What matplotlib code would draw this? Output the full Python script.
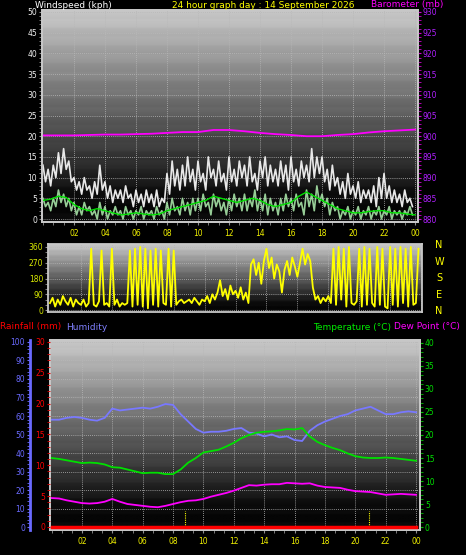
import matplotlib
matplotlib.use('Agg')
import matplotlib.pyplot as plt
from matplotlib.ticker import MultipleLocator
import numpy as np

W, H = 466, 555

# ---- wind speed (kph), 10 minute samples, one row per hour ----
wind_gust = [
    13, 9, 12, 8, 13, 10,
    16, 11, 17, 12, 14, 9,
    10, 7, 9, 6, 10, 7,
    8, 5, 9, 6, 13, 7,
    9, 5, 8, 4, 7, 5,
    7, 4, 8, 5, 6, 3,
    7, 4, 6, 3, 7, 4,
    6, 3, 7, 3, 5, 4,
    11, 6, 14, 8, 12, 7,
    13, 8, 15, 9, 12, 7,
    14, 9, 11, 7, 15, 10,
    12, 8, 14, 9, 11, 7,
    15, 9, 12, 8, 14, 10,
    13, 8, 15, 9, 11, 7,
    14, 10, 15, 8, 13, 9,
    12, 8, 14, 9, 13, 7,
    15, 9, 12, 8, 14, 10,
    13, 9, 17, 10, 15, 11,
    15, 9, 12, 7, 13, 8,
    10, 6, 9, 5, 11, 6,
    8, 5, 9, 4, 7, 5,
    7, 4, 8, 3, 10, 5,
    11, 5, 8, 4, 7, 4,
    6, 3, 7, 4, 5, 3,
]
wind_speed = [
    5, 3, 4, 2, 5, 3,
    7, 4, 6, 3, 5, 2,
    4, 1, 3, 1, 4, 2,
    3, 1, 2, 0, 4, 1,
    3, 0, 2, 1, 3, 1,
    2, 0, 3, 1, 2, 0,
    2, 1, 3, 0, 2, 1,
    2, 0, 3, 1, 2, 0,
    4, 1, 5, 2, 3, 1,
    5, 2, 4, 1, 5, 2,
    5, 2, 6, 3, 4, 1,
    6, 3, 5, 2, 4, 1,
    5, 2, 6, 3, 5, 2,
    6, 2, 5, 3, 7, 2,
    5, 2, 6, 1, 5, 2,
    4, 1, 5, 2, 6, 3,
    5, 2, 6, 3, 4, 1,
    7, 3, 6, 2, 8, 4,
    6, 3, 5, 1, 4, 2,
    3, 0, 2, 1, 3, 0,
    2, 1, 3, 0, 2, 1,
    3, 0, 2, 1, 3, 0,
    2, 1, 3, 0, 2, 1,
    2, 0, 2, 1, 3, 1,
]
# half hourly average wind
wind_avg = [4.5, 4.8, 5.5, 5.2, 3.5, 2.5, 2.0, 2.5, 2.0, 1.5, 1.0, 1.2, 1.5, 1.2,
            1.0, 1.2, 2.0, 2.5, 3.0, 3.5, 4.0, 4.5, 5.5, 5.0, 4.5, 4.0, 4.5, 5.0,
            4.5, 3.5, 3.0, 3.5, 4.0, 5.5, 6.5, 5.5, 4.5, 3.5, 2.5, 2.0, 1.5, 1.5,
            1.8, 2.0, 2.0, 1.5, 1.5, 1.2, 1.0]
# hourly barometer (mb)
baro = [900.2, 900.2, 900.2, 900.3, 900.4, 900.4, 900.5, 900.6, 900.8, 901.0,
        901.0, 901.5, 901.5, 901.2, 900.8, 900.5, 900.3, 900.0, 900.0, 900.3,
        900.5, 900.9, 901.2, 901.4, 901.6]

# ---- wind direction (deg), 10 minute samples ----
wind_dir = [
    40, 70, 20, 60, 30, 80,
    50, 30, 70, 20, 60, 40,
    30, 60, 20, 40, 350, 30,
    20, 50, 340, 30, 40, 20,
    350, 30, 60, 20, 40, 30,
    40, 340, 20, 350, 30, 360,
    20, 350, 10, 340, 30, 350,
    20, 340, 40, 30, 350, 20,
    340, 30, 50, 60, 40, 50,
    60, 40, 70, 50, 30, 60,
    50, 80, 40, 90, 60, 100,
    170, 80, 120, 60, 140, 90,
    110, 70, 130, 60, 100, 40,
    260, 290, 200, 270, 150, 280,
    350, 240, 300, 180, 260, 220,
    100, 230, 280, 200, 300, 250,
    190, 270, 350, 260, 320, 280,
    130, 60, 80, 40, 70, 50,
    80, 40, 350, 30, 360, 60,
    350, 20, 360, 40, 30, 50,
    350, 20, 360, 30, 350, 40,
    20, 360, 30, 350, 20, 10,
    360, 30, 350, 20, 360, 40,
    350, 20, 360, 30, 40, 350,
]

# ---- half hourly humidity (%), temperature and dew point (C) ----
humidity = [58, 58, 59, 59.5, 59, 58, 57.5, 59, 64, 63, 63.5, 64, 64.5, 64, 65,
            66.5, 66, 61, 57, 53, 51, 51.5, 51.5, 52, 53, 53.5, 51, 50.5, 49, 50,
            48.5, 49, 47, 46.5, 52, 55, 57, 58.5, 60, 61, 63, 64, 65, 63, 61, 61,
            62, 62.5, 62]
temperature = [15.0, 14.8, 14.5, 14.2, 13.9, 14.0, 13.9, 13.6, 13.0, 12.9, 12.5,
               12.1, 11.7, 11.8, 11.8, 11.5, 11.5, 12.5, 14.0, 15.0, 16.2, 16.5,
               16.8, 17.5, 18.3, 19.3, 20.0, 20.5, 20.7, 20.8, 21.0, 21.3, 21.2,
               21.5, 19.7, 18.5, 17.8, 17.2, 16.7, 16.0, 15.4, 15.1, 15.0, 15.0,
               15.1, 15.0, 14.8, 14.6, 14.4]
dew_point = [6.3, 6.2, 5.8, 5.5, 5.2, 5.1, 5.2, 5.5, 6.1, 5.5, 5.0, 4.8, 4.6, 4.4,
             4.3, 4.6, 5.0, 5.4, 5.7, 5.8, 6.1, 6.6, 7.0, 7.4, 7.9, 8.5, 9.1, 9.0,
             9.2, 9.3, 9.3, 9.6, 9.5, 9.4, 9.5, 9.0, 8.7, 8.6, 8.5, 8.1, 7.8, 7.7,
             7.6, 7.3, 7.0, 7.1, 7.2, 7.1, 7.0]
rain_hours = [0, 24]
rainfall = [0, 0]
marker_hours = [8.8, 20.9]

hour_labels = ['02', '04', '06', '08', '10', '12', '14', '16', '18', '20', '22', '00']

YELLOW = '#f0f000'
FRAME = '#c8c8c8'
TS = 5.5
FS = 6.5

fig = plt.figure(figsize=(W / 100, H / 100), dpi=100, facecolor='black')


def panel(l, t, r, b):
    return fig.add_axes([l / W, 1 - b / H, (r - l) / W, (b - t) / H])


def backdrop(ax):
    n = 120
    t = np.linspace(0, 1, n).reshape(-1, 1)
    shade = np.clip(0.78 - 0.85 * t, 0.02, 1)
    shade = shade + 0.02 * ((np.arange(n) // 5) % 2).reshape(-1, 1)
    ax.imshow(shade, extent=[0, 1, 0, 1], transform=ax.transAxes, aspect='auto',
              cmap='gray', vmin=0, vmax=1, zorder=0.1, interpolation='bilinear')
    ax.set_axisbelow(True)
    for s in ax.spines.values():
        s.set_color(FRAME)
        s.set_linewidth(1.3)


def time_axis(ax, labels=True):
    ax.set_xticks(range(2, 25, 2))
    ax.xaxis.set_minor_locator(MultipleLocator(2 / 3))
    if labels:
        ax.set_xticklabels(hour_labels)
    else:
        ax.set_xticklabels([])
    ax.tick_params(axis='x', which='both', colors='#909090', labelcolor=YELLOW,
                   labelsize=TS, length=2, pad=3)
    ax.grid(axis='x', color='#b8b8b8', linestyle=(0, (1, 1.5)), linewidth=0.6)


# ---------------- wind speed / barometer ----------------
ax1 = panel(42, 10, 418, 222)
backdrop(ax1)
ax1.set_xlim(-0.06, 24.19)
ax1.set_ylim(-0.72, 50.48)
t10 = np.arange(len(wind_gust)) / 6
t30 = np.arange(len(wind_avg)) / 2
ax1.plot(t10, wind_gust, color='#e8e8e8', lw=1.2, zorder=3)
ax1.plot(t10, wind_speed, color='#b0f0b0', lw=1.2, alpha=0.85, zorder=4)
ax1.plot(t30, wind_avg, color='#00e000', lw=1.0, zorder=5)
ax1.set_yticks(range(0, 51, 5))
ax1.yaxis.set_minor_locator(MultipleLocator(1))
ax1.tick_params(axis='y', which='both', colors='#909090', labelcolor='#f0f0f0',
                labelsize=TS, length=2, pad=1.5)
ax1.grid(axis='y', color='#b8b8b8', linestyle=(0, (1, 1.5)), linewidth=0.6)
time_axis(ax1)

ax1b = ax1.twinx()
ax1b.set_ylim(879.28, 930.48)
ax1b.plot(np.arange(len(baro)), baro, color='#ff00ff', lw=1.3)
ax1b.set_yticks(range(880, 931, 5))
ax1b.yaxis.set_minor_locator(MultipleLocator(1))
ax1b.tick_params(axis='y', which='both', colors='#d000d0', labelcolor='#b020ff',
                 labelsize=TS, length=2, pad=1)
for s in ax1b.spines.values():
    s.set_color(FRAME)
    s.set_linewidth(1.3)

fig.text(35 / W, 1 - 5 / H, 'Windspeed (kph)', color='white', fontsize=FS, va='center')
fig.text(172 / W, 1 - 5 / H, '24 hour graph day : 14 September 2026', color='#ffff00',
         fontsize=FS, va='center')
fig.text(371 / W, 1 - 4.5 / H, 'Barometer (mb)', color='#ff00ff', fontsize=FS, va='center')

# ---------------- wind direction ----------------
ax2 = panel(48, 244, 422, 312)
backdrop(ax2)
ax2.set_xlim(-0.13, 24.06)
ax2.set_ylim(-11, 377)
ax2.plot(t10, wind_dir, color='#ffff00', lw=1.3, zorder=3)
ax2.set_yticks([0, 90, 180, 270, 360])
ax2.yaxis.set_minor_locator(MultipleLocator(30))
ax2.tick_params(axis='y', which='both', colors='#909090', labelcolor='#d8e800',
                labelsize=TS, length=2, pad=1.5)
ax2.grid(axis='y', color='#b8b8b8', linestyle=(0, (1, 1.5)), linewidth=0.6)
time_axis(ax2, labels=False)
ax2.tick_params(axis='x', which='both', length=0)
for i, c in enumerate(['N', 'W', 'S', 'E', 'N']):
    fig.text(439 / W, 1 - (245 + i * 16.5) / H, c, color='#ffff00', fontsize=7,
             ha='center', va='center')

# ---------------- temperature / humidity / rain ----------------
ax3 = panel(50, 340, 420, 530)
backdrop(ax3)
ax3.set_xlim(-0.1, 24.26)
ax3.set_ylim(-0.65, 40.65)
ax3.set_yticks([])
time_axis(ax3)

ax3h = ax3.twinx()
ax3h.set_ylim(-1.62, 101.08)
ax3h.yaxis.tick_left()
ax3h.spines['left'].set_position(('outward', 14.4))
ax3h.spines['left'].set_color('#6a6aff')
ax3h.spines['left'].set_linewidth(2)
for k in ['right', 'top', 'bottom']:
    ax3h.spines[k].set_visible(False)
ax3h.set_yticks(range(0, 101, 10))
ax3h.yaxis.set_minor_locator(MultipleLocator(2))
ax3h.tick_params(axis='y', which='both', colors='#6a6aff', labelcolor='#6a6aff',
                 labelsize=TS, length=2, pad=1.5)
ax3h.grid(axis='y', color='#b8b8b8', linestyle=(0, (1, 1.5)), linewidth=0.6)
ax3h.plot(t30, humidity, color='#7878ff', lw=1.3)

ax3t = ax3.twinx()
ax3t.set_ylim(-0.65, 40.65)
ax3t.plot(t30, temperature, color='#00e000', lw=1.3)
ax3t.plot(t30, dew_point, color='#ff00ff', lw=1.3)
for mh in marker_hours:
    ax3t.plot([mh, mh], [0, 3.5], color='#ffff00', lw=0.8, linestyle=(0, (1, 1)))
ax3t.set_yticks(range(0, 41, 5))
ax3t.yaxis.set_minor_locator(MultipleLocator(1))
ax3t.tick_params(axis='y', which='both', colors='#00c000', labelcolor='#00e000',
                 labelsize=TS, length=2, pad=1.5)
for s in ax3t.spines.values():
    s.set_color(FRAME)
    s.set_linewidth(1.3)

ax3r = ax3.twinx()
ax3r.set_ylim(-0.49, 30.32)
ax3r.yaxis.tick_left()
for s in ax3r.spines.values():
    s.set_visible(False)
ax3r.set_yticks(range(0, 31, 5))
ax3r.yaxis.set_minor_locator(MultipleLocator(1))
ax3r.tick_params(axis='y', which='both', colors='#e00000', labelcolor='#ff0000',
                 labelsize=TS, length=2, pad=1.5)
ax3r.plot(rain_hours, rainfall, color='#ff0000', lw=2.5)

fig.text(0 / W, 1 - 327 / H, 'Rainfall (mm)', color='#ff0000', fontsize=FS, va='center')
fig.text(66 / W, 1 - 327 / H, 'Humidity', color='#8080ff', fontsize=FS, va='center')
fig.text(313 / W, 1 - 327 / H, 'Temperature (\u00b0C)', color='#00ee00', fontsize=FS, va='center')
fig.text(394 / W, 1 - 327 / H, 'Dew Point (\u00b0C)', color='#ff00ff', fontsize=FS, va='center')

fig.savefig('out.png', dpi=100, facecolor='black')
plt.close(fig)
